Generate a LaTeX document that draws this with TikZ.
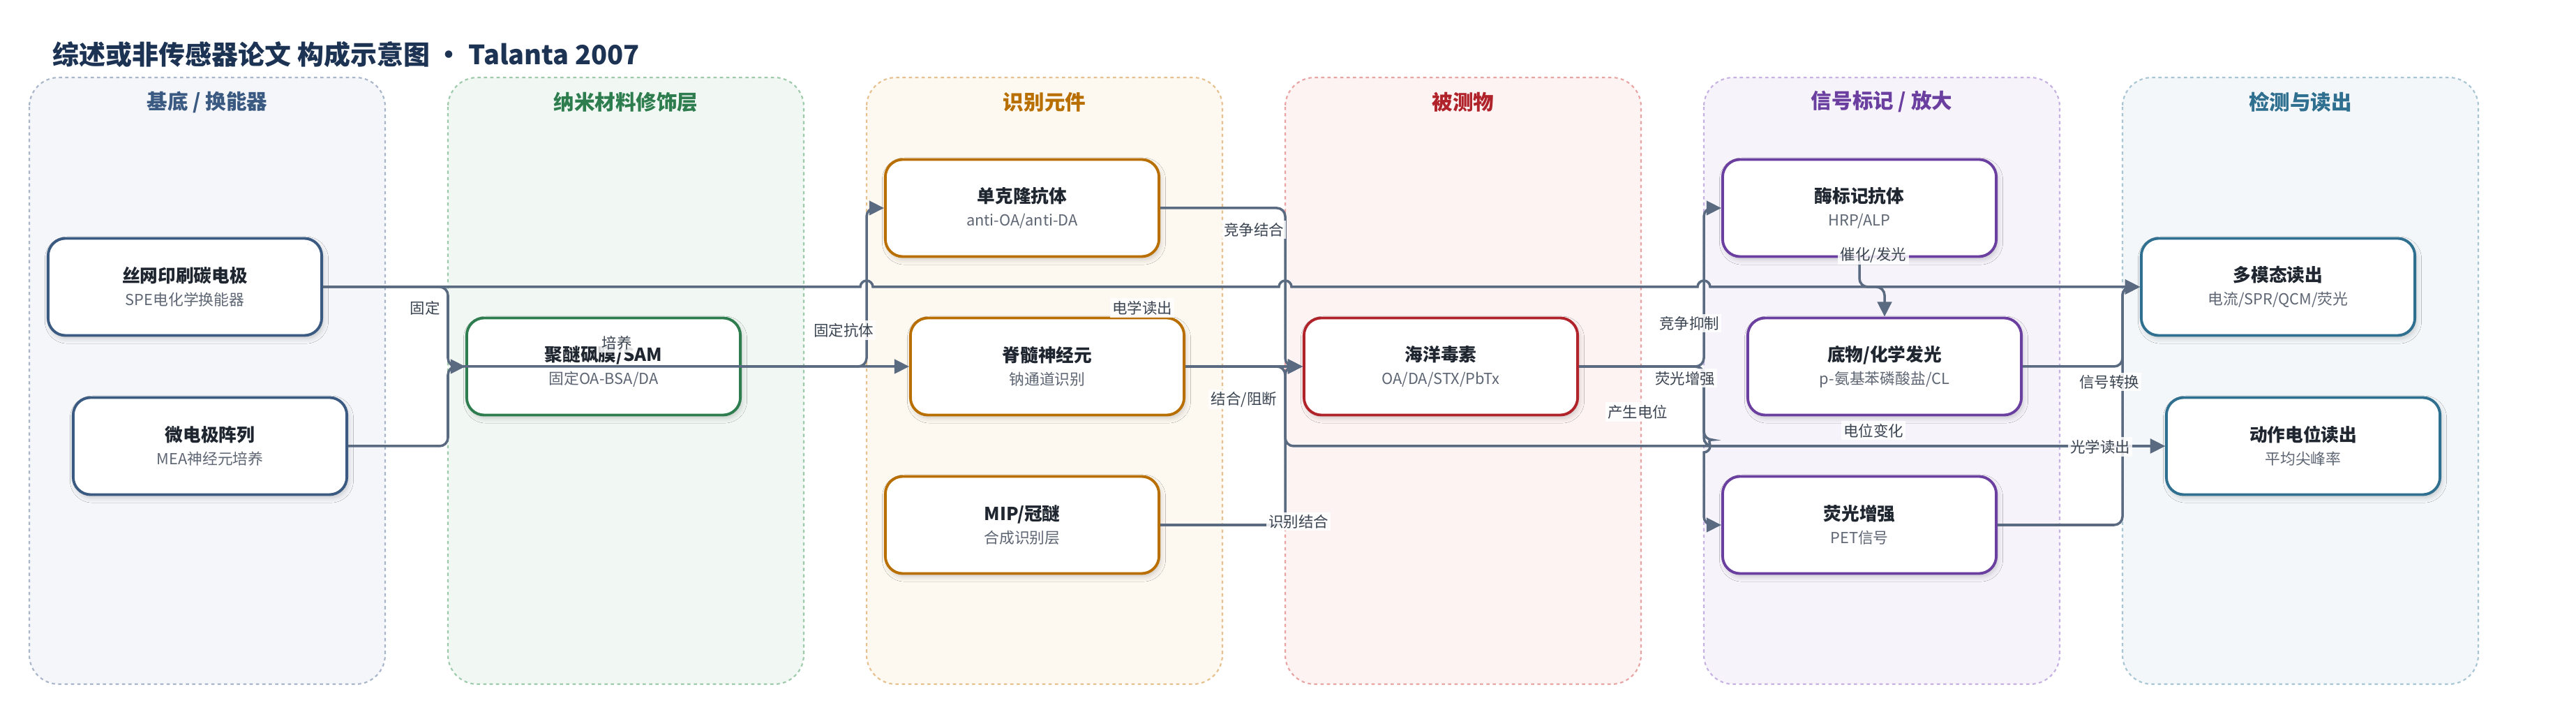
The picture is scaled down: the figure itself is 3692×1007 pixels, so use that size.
\documentclass[tikz,border=0pt]{standalone}
\usepackage{fontspec}
\setmainfont{Noto Sans CJK SC}
\usetikzlibrary{arrows.meta,shadows.blur}

\definecolor{edgec}{HTML}{5A6A80}
\definecolor{titlec}{HTML}{1D3354}
\definecolor{inkc}{HTML}{1F2630}
\definecolor{subc}{HTML}{5F6673}
\definecolor{labc}{HTML}{3A4350}
% lane colours: fill / dashed border / heading and node border
\definecolor{fa}{HTML}{F4F6FA}\definecolor{da}{HTML}{A9B6CA}\definecolor{ta}{HTML}{3B5A82}
\definecolor{fb}{HTML}{F1F8F3}\definecolor{db}{HTML}{9DCAAB}\definecolor{tb}{HTML}{2E7D4F}
\definecolor{fc}{HTML}{FDF8F0}\definecolor{dc}{HTML}{E6C08E}\definecolor{tc}{HTML}{B86F00}
\definecolor{fd}{HTML}{FDF3F3}\definecolor{dd}{HTML}{E8A3A3}\definecolor{td}{HTML}{B0232A}
\definecolor{fe}{HTML}{F6F3FB}\definecolor{de}{HTML}{C5B2E2}\definecolor{te}{HTML}{6B3FA0}
\definecolor{ff}{HTML}{F3F7F9}\definecolor{df}{HTML}{A8C5D4}\definecolor{tf}{HTML}{2F6F8F}

\newcommand{\duo}[2]{{\bfseries\color{inkc}#1}\\{\fontsize{6.2}{9.4}\selectfont\color{subc}#2}}

\begin{document}
\begin{tikzpicture}[x=0.01cm,y=-0.01cm,>={Triangle[length=6pt,width=5.8pt]},
    lane/.style={line width=0.6pt,dash pattern=on 1.3pt off 1.3pt,rounded corners=0.42cm},
    lane head/.style={font=\bfseries\fontsize{8.4}{10}\selectfont},
    unit node/.style={rectangle,fill=white,line width=1.1pt,rounded corners=0.25cm,
      minimum width=3.92cm,minimum height=1.39cm,inner sep=0pt,align=center,
      font=\fontsize{7.3}{9.4}\selectfont,
      blur shadow={shadow xshift=0.7pt,shadow yshift=-1.3pt,shadow blur radius=2pt,shadow opacity=18}},
    conn/.style={->,draw=edgec,line width=1pt,rounded corners=0.12cm},
    tag/.style={font=\fontsize{6.1}{7}\selectfont,text=labc,fill=white,fill opacity=0.85,text opacity=1,inner sep=1pt}]

  \useasboundingbox (0,0) rectangle (3692,1007);

  \node[anchor=west,inner sep=0pt,font=\bfseries\fontsize{10.8}{12}\selectfont,text=titlec] (title) at (75,78)
    {综述或非传感器论文 构成示意图 • Talanta 2007};

  \foreach \k/\lf/\ld/\lt/\lname in {0/fa/da/ta/{基底 / 换能器},1/fb/db/tb/纳米材料修饰层,2/fc/dc/tc/识别元件,
      3/fd/dd/td/被测物,4/fe/de/te/{信号标记 / 放大},5/ff/df/tf/检测与读出}{
    \draw[lane,fill=\lf,draw=\ld] ({42+600*\k},111) rectangle ++(510,869);
    \node[lane head,text=\lt] (head\k) at ({297+600*\k},146) {\lname};
  }

  \node[unit node,draw=ta] (spe) at (265,411) {\duo{丝网印刷碳电极}{SPE电化学换能器}};
  \node[unit node,draw=ta] (mea) at (301,639) {\duo{微电极阵列}{MEA神经元培养}};
  \node[unit node,draw=tb] (pes) at (865,525) {\duo{聚醚砜膜/SAM}{固定OA-BSA/DA}};
  \node[unit node,draw=tc] (mab) at (1465,298) {\duo{单克隆抗体}{anti-OA/anti-DA}};
  \node[unit node,draw=tc] (neu) at (1501,525) {\duo{脊髓神经元}{钠通道识别}};
  \node[unit node,draw=tc] (mip) at (1465,752) {\duo{MIP/冠醚}{合成识别层}};
  \node[unit node,draw=td] (tox) at (2065,525) {\duo{海洋毒素}{OA/DA/STX/PbTx}};
  \node[unit node,draw=te] (enz) at (2665,298) {\duo{酶标记抗体}{HRP/ALP}};
  \node[unit node,draw=te] (sub) at (2701,525) {\duo{底物/化学发光}{p-氨基苯磷酸盐/CL}};
  \node[unit node,draw=te] (flu) at (2665,752) {\duo{荧光增强}{PET信号}};
  \node[unit node,draw=tf] (multi) at (3265,411) {\duo{多模态读出}{电流/SPR/QCM/荧光}};
  \node[unit node,draw=tf] (ap) at (3301,639) {\duo{动作电位读出}{平均尖峰率}};

  \draw[conn] (spe.east) -| (642,525) -- (pes.west);
  \draw[conn] (mea.east) -| (642,525) -- (neu.west);
  \draw[conn] (pes.east) -| (1242,298) -- (mab.west);
  \draw[conn,sharp corners] (spe.east) -- (1233,411) arc[start angle=180,end angle=360,radius=9]
    -- (1833,411) arc[start angle=180,end angle=360,radius=9]
    -- (2433,411) arc[start angle=180,end angle=360,radius=9] -- (multi.west);
  \draw[conn] (mab.east) -| (1842,525) -- (tox.west);
  \draw[conn] (neu.east) -- (tox.west);
  \draw[conn] (mip.east) -| (1842,525) -- (tox.west);
  \draw[conn] (neu.east) -| (1842,639) -- (ap.west);
  \draw[conn] (tox.east) -| (2442,298) -- (enz.west);
  \draw[conn] (tox.east) -| (2442,630) [sharp corners] arc[start angle=270,end angle=450,radius=9]
    [rounded corners=0.12cm] -- (2442,752) -- (flu.west);
  \draw[conn] (tox.east) -| (2442,639) -- (ap.west);
  \draw[conn] (enz.south) |- (2701,411) -- (sub.north);
  \draw[conn] (sub.east) -| (3042,411) -- (multi.west);
  \draw[conn] (flu.east) -| (3042,411) -- (multi.west);

  \node[tag] (t1) at (609,441) {固定};
  \node[tag] (t2) at (884,491) {培养};
  \node[tag] (t3) at (1209,473) {固定抗体};
  \node[tag] (t4) at (1637,441) {电学读出};
  \node[tag] (t5) at (1797,329) {竞争结合};
  \node[tag] (t6) at (1783,572) {结合/阻断};
  \node[tag] (t7) at (1861,747) {识别结合};
  \node[tag] (t8) at (2347,590) {产生电位};
  \node[tag] (t9) at (2421,463) {竞争抑制};
  \node[tag] (t10) at (2415,542) {荧光增强};
  \node[tag] (t11) at (2685,365) {催化/发光};
  \node[tag] (t12) at (2685,617) {电位变化};
  \node[tag] (t13) at (3023,547) {信号转换};
  \node[tag] (t14) at (3010,640) {光学读出};

\end{tikzpicture}
\end{document}
